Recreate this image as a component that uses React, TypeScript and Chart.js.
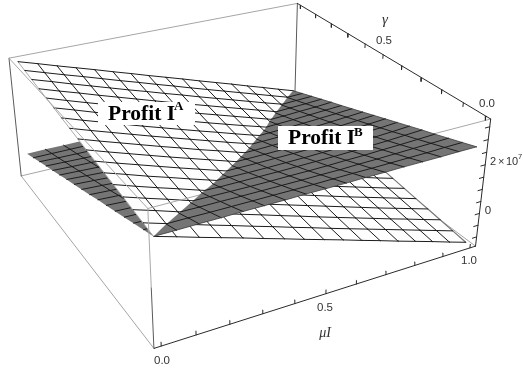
import React, { useEffect, useRef } from "react";
import { Chart, registerables } from "chart.js";

Chart.register(...registerables);

// mesh positions shared by mu I and gamma
const meshValues = [0, 0.0625, 0.125, 0.1875, 0.25, 0.3125, 0.375, 0.4375, 0.5, 0.5625, 0.625, 0.6875, 0.75, 0.8125, 0.875, 0.9375, 1];

// Profit I^A in millions: one row per gamma, one column per mu I
const profitA = [
  [26.0, 23.6, 21.1, 18.7, 16.3, 13.8, 11.4, 8.9, 6.5, 4.1, 1.6, -0.8, -3.3, -5.7, -8.1, -10.6, -13.0],
  [26.7, 24.2, 21.7, 19.2, 16.8, 14.3, 11.9, 9.4, 7.0, 4.5, 2.1, -0.3, -2.7, -5.1, -7.5, -9.9, -12.3],
  [27.4, 24.9, 22.3, 19.8, 17.3, 14.8, 12.4, 9.9, 7.5, 5.0, 2.6, 0.2, -2.2, -4.6, -6.9, -9.3, -11.6],
  [28.1, 25.5, 23.0, 20.4, 17.9, 15.4, 12.9, 10.4, 8.0, 5.6, 3.2, 0.8, -1.6, -4.0, -6.3, -8.6, -10.9],
  [28.8, 26.1, 23.5, 21.0, 18.4, 15.9, 13.4, 11.0, 8.5, 6.1, 3.7, 1.3, -1.1, -3.4, -5.7, -8.0, -10.3],
  [29.4, 26.8, 24.1, 21.6, 19.0, 16.5, 14.0, 11.5, 9.0, 6.6, 4.2, 1.9, -0.5, -2.8, -5.1, -7.4, -9.6],
  [30.1, 27.4, 24.8, 22.2, 19.6, 17.1, 14.6, 12.1, 9.7, 7.2, 4.8, 2.5, 0.1, -2.2, -4.4, -6.7, -8.9],
  [30.8, 28.1, 25.5, 22.9, 20.3, 17.8, 15.3, 12.8, 10.3, 7.9, 5.5, 3.2, 0.8, -1.5, -3.8, -6.0, -8.2],
  [31.5, 28.8, 26.2, 23.6, 21.0, 18.5, 15.9, 13.5, 11.0, 8.6, 6.2, 3.8, 1.5, -0.8, -3.1, -5.3, -7.5],
  [32.2, 29.5, 26.9, 24.3, 21.7, 19.2, 16.7, 14.2, 11.7, 9.3, 6.9, 4.6, 2.2, -0.1, -2.4, -4.6, -6.8],
  [32.9, 30.2, 27.6, 25.0, 22.4, 19.9, 17.4, 14.9, 12.5, 10.0, 7.6, 5.3, 2.9, 0.6, -1.6, -3.9, -6.1],
  [33.6, 31.0, 28.3, 25.8, 23.2, 20.7, 18.2, 15.7, 13.2, 10.8, 8.4, 6.1, 3.7, 1.4, -0.9, -3.2, -5.4],
  [34.3, 31.6, 29.0, 26.5, 23.9, 21.4, 18.9, 16.5, 14.0, 11.6, 9.2, 6.8, 4.4, 2.1, -0.2, -2.5, -4.8],
  [34.9, 32.3, 29.8, 27.2, 24.7, 22.2, 19.7, 17.2, 14.8, 12.4, 10.0, 7.6, 5.2, 2.8, 0.5, -1.8, -4.1],
  [35.6, 33.1, 30.5, 28.0, 25.5, 23.0, 20.6, 18.1, 15.7, 13.2, 10.8, 8.4, 6.0, 3.6, 1.3, -1.1, -3.4],
  [36.3, 33.8, 31.3, 28.9, 26.4, 23.9, 21.5, 19.0, 16.6, 14.1, 11.7, 9.3, 6.9, 4.5, 2.1, -0.3, -2.7],
  [37.0, 34.6, 32.1, 29.7, 27.3, 24.8, 22.4, 19.9, 17.5, 15.1, 12.6, 10.2, 7.8, 5.3, 2.9, 0.4, -2.0],
];

// Profit I^B in millions: one row per gamma, one column per mu I
const profitB = [
  [26.0, 26.0, 26.1, 26.1, 26.2, 26.2, 26.2, 26.3, 26.3, 26.3, 26.4, 26.4, 26.5, 26.5, 26.5, 26.6, 26.6],
  [24.2, 24.1, 24.1, 24.0, 24.0, 24.0, 24.0, 24.0, 24.0, 24.1, 24.2, 24.2, 24.3, 24.4, 24.5, 24.7, 24.8],
  [22.4, 22.2, 22.0, 21.9, 21.9, 21.8, 21.8, 21.8, 21.8, 21.9, 21.9, 22.1, 22.2, 22.4, 22.6, 22.8, 23.0],
  [20.5, 20.3, 20.1, 19.9, 19.8, 19.7, 19.6, 19.6, 19.7, 19.7, 19.8, 20.0, 20.1, 20.4, 20.6, 20.9, 21.2],
  [18.7, 18.4, 18.1, 17.9, 17.8, 17.6, 17.6, 17.6, 17.6, 17.7, 17.8, 17.9, 18.1, 18.4, 18.7, 19.1, 19.5],
  [16.9, 16.5, 16.2, 16.0, 15.8, 15.6, 15.6, 15.5, 15.5, 15.6, 15.7, 15.9, 16.2, 16.5, 16.8, 17.2, 17.7],
  [15.1, 14.7, 14.3, 14.1, 13.8, 13.7, 13.6, 13.6, 13.6, 13.7, 13.8, 14.0, 14.3, 14.6, 15.0, 15.4, 15.9],
  [13.2, 12.8, 12.5, 12.2, 12.0, 11.8, 11.7, 11.7, 11.7, 11.8, 11.9, 12.1, 12.4, 12.7, 13.1, 13.6, 14.1],
  [11.4, 11.0, 10.6, 10.3, 10.1, 10.0, 9.9, 9.8, 9.9, 9.9, 10.1, 10.3, 10.6, 10.9, 11.3, 11.8, 12.3],
  [9.6, 9.2, 8.8, 8.6, 8.3, 8.2, 8.1, 8.1, 8.1, 8.2, 8.3, 8.5, 8.8, 9.1, 9.5, 10.0, 10.5],
  [7.8, 7.4, 7.0, 6.8, 6.6, 6.4, 6.4, 6.3, 6.4, 6.5, 6.6, 6.8, 7.1, 7.4, 7.8, 8.2, 8.7],
  [5.9, 5.6, 5.3, 5.1, 4.9, 4.8, 4.7, 4.7, 4.7, 4.8, 4.9, 5.1, 5.4, 5.7, 6.1, 6.5, 6.9],
  [4.1, 3.8, 3.6, 3.4, 3.2, 3.1, 3.1, 3.1, 3.1, 3.2, 3.3, 3.5, 3.8, 4.0, 4.4, 4.7, 5.2],
  [2.3, 2.1, 1.9, 1.7, 1.6, 1.6, 1.5, 1.6, 1.6, 1.7, 1.8, 2.0, 2.2, 2.4, 2.7, 3.0, 3.4],
  [0.5, 0.3, 0.2, 0.1, 0.1, 0.1, 0.0, 0.1, 0.1, 0.2, 0.3, 0.5, 0.6, 0.8, 1.0, 1.3, 1.6],
  [-1.4, -1.4, -1.4, -1.4, -1.4, -1.4, -1.4, -1.3, -1.3, -1.2, -1.1, -1.0, -0.9, -0.7, -0.6, -0.4, -0.2],
  [-3.2, -3.1, -3.1, -3.0, -2.9, -2.8, -2.8, -2.7, -2.6, -2.5, -2.5, -2.4, -2.3, -2.2, -2.2, -2.1, -2.0],
];

const axisTicks = [0, 0.1, 0.2, 0.3, 0.4, 0.5, 0.6, 0.7, 0.8, 0.9, 1];
const profitTicks = [-10, -5, 0, 5, 10, 15, 20, 25, 30, 35];
const profitRange = [-14, 38];

// view: where the eight corners of the plot box land on the canvas
const boxCorners = [
  [0, 0, 0, 154, 349], [1, 0, 0, 475, 246], [0, 1, 0, 21, 175], [1, 1, 0, 295, 112],
  [0, 0, 1, 148, 208], [1, 0, 1, 491, 119], [0, 1, 1, 9, 59], [1, 1, 1, 297, 3],
];

function solveCamera() {
  const rows: number[][] = [];
  const rhs: number[] = [];
  for (const [u, v, w, x, y] of boxCorners) {
    rows.push([u, v, w, 1, 0, 0, 0, 0, -u * x, -v * x, -w * x]); rhs.push(x);
    rows.push([0, 0, 0, 0, u, v, w, 1, -u * y, -v * y, -w * y]); rhs.push(y);
  }
  const n = 11;
  const m = Array.from({ length: n }, (_, a) => {
    const r = Array.from({ length: n }, (_, b) => rows.reduce((s, row) => s + row[a] * row[b], 0));
    r.push(rows.reduce((s, row, k) => s + row[a] * rhs[k], 0));
    return r;
  });
  for (let c = 0; c < n; c++) {
    let best = c;
    for (let r = c + 1; r < n; r++) if (Math.abs(m[r][c]) > Math.abs(m[best][c])) best = r;
    [m[c], m[best]] = [m[best], m[c]];
    for (let r = 0; r < n; r++) {
      if (r === c) continue;
      const f = m[r][c] / m[c][c];
      for (let k = c; k <= n; k++) m[r][k] -= f * m[c][k];
    }
  }
  return m.map((r, i) => r[n] / r[i]);
}
const cam = solveCamera();
const boxPoint = (u: number, v: number, w: number) => {
  const d = cam[8] * u + cam[9] * v + cam[10] * w + 1;
  return { x: (cam[0] * u + cam[1] * v + cam[2] * w + cam[3]) / d, y: (cam[4] * u + cam[5] * v + cam[6] * w + cam[7]) / d };
};
const PAD = 0.02;
const toBox = (t: number) => PAD + (1 - 2 * PAD) * t;
const toW = (z: number) => (z - profitRange[0]) / (profitRange[1] - profitRange[0]);
const dataPoint = (mu: number, gamma: number, z: number) => boxPoint(toBox(mu), toBox(gamma), toW(z));
const GAP = { x: NaN, y: NaN };

type V = { mu: number; gamma: number; a: number; b: number };
const vert = (i: number, j: number): V => ({ mu: meshValues[i], gamma: meshValues[j], a: profitA[j][i], b: profitB[j][i] });
const mix = (p: V, q: V, t: number): V => ({
  mu: p.mu + (q.mu - p.mu) * t, gamma: p.gamma + (q.gamma - p.gamma) * t, a: p.a + (q.a - p.a) * t, b: p.b + (q.b - p.b) * t,
});

const last = meshValues.length - 1;

// sign +1: the part where A is above B; sign -1: the part where B is above A
function patches(sign: number, key: "a" | "b") {
  const out: { x: number; y: number }[] = [];
  for (let j = 0; j < last; j++) for (let i = 0; i < last; i++) {
    const q = [vert(i, j), vert(i + 1, j), vert(i + 1, j + 1), vert(i, j + 1)];
    const poly: V[] = [];
    q.forEach((p, k) => {
      const n = q[(k + 1) % 4];
      const dp = sign * (p.a - p.b), dn = sign * (n.a - n.b);
      if (dp >= 0) poly.push(p);
      if (dp * dn < 0) poly.push(mix(p, n, dp / (dp - dn)));
    });
    if (poly.length > 2) {
      poly.forEach((p) => out.push(dataPoint(p.mu, p.gamma, p[key])));
      out.push(GAP);
    }
  }
  return out;
}

function strokes(sign: number, key: "a" | "b", keepMu: (i: number) => boolean, keepGamma: (j: number) => boolean) {
  const out: { x: number; y: number }[] = [];
  const seg = (p: V, n: V) => {
    const dp = sign * (p.a - p.b), dn = sign * (n.a - n.b);
    if (dp < 0 && dn < 0) return;
    let s = p, e = n;
    if (dp * dn < 0) {
      const m = mix(p, n, dp / (dp - dn));
      if (dp > 0) e = m; else s = m;
    } else if (dp <= 0 && dn <= 0) return;
    out.push(dataPoint(s.mu, s.gamma, s[key]), dataPoint(e.mu, e.gamma, e[key]), GAP);
  };
  for (let j = 0; j <= last; j++) if (keepGamma(j)) for (let i = 0; i < last; i++) seg(vert(i, j), vert(i + 1, j));
  for (let i = 0; i <= last; i++) if (keepMu(i)) for (let j = 0; j < last; j++) seg(vert(i, j), vert(i, j + 1));
  return out;
}

const inner = (k: number) => k > 0 && k < last;
const any = (_: number) => true;
const none = (_: number) => false;

const edge = (a: number[], b: number[]) => [boxPoint(a[0], a[1], a[2]), boxPoint(b[0], b[1], b[2]), GAP];

const fillSet = (data: any[], color: string) => ({ data, polyFill: color, showLine: false, pointRadius: 0 });
const lineSet = (data: any[], color: string, width: number) => ({
  data, showLine: true, pointRadius: 0, borderColor: color, borderWidth: width, borderCapStyle: "round", fill: false,
});

const GREY = "#757575";
const WHITE = "#fefefe";
const MESH = "#1c1c1c";

function buildDatasets() {
  const axisEdges = [...edge([0, 0, 0], [1, 0, 0]), ...edge([1, 1, 1], [1, 0, 1]), ...edge([1, 0, 1], [1, 0, 0])];
  const tickMarks: any[] = [];
  axisTicks.forEach((t) => {
    tickMarks.push(boxPoint(toBox(t), 0, 0), boxPoint(toBox(t), 0, 0.03), GAP);
    tickMarks.push(boxPoint(1, toBox(t), 1), boxPoint(1, toBox(t), 0.97), GAP);
  });
  profitTicks.forEach((z) => {
    tickMarks.push(boxPoint(1, 0, toW(z)), boxPoint(0.985, 0, toW(z)), GAP);
  });
  const painted = [
    lineSet([...edge([0, 1, 1], [1, 1, 1]), ...edge([0, 1, 0], [1, 1, 0]), ...edge([1, 1, 0], [1, 0, 0]), ...edge([0, 1, 0], [0, 0, 0])], "#a5a5a5", 1),
    lineSet([...edge([0, 1, 1], [0, 1, 0]), ...edge([1, 1, 1], [1, 1, 0]), ...edge([0, 0, 0], [0, 0, 0.45])], "#5a5a5a", 1),
    fillSet(patches(1, "b"), GREY),
    lineSet(strokes(1, "b", inner, inner), MESH, 1),
    fillSet(patches(-1, "a"), WHITE),
    lineSet(strokes(-1, "a", (i) => i === last, none), "#777777", 1.2),
    lineSet(strokes(-1, "a", inner, any), MESH, 1),
    fillSet(patches(1, "a"), WHITE),
    lineSet(strokes(1, "a", (i) => i === 0, none), "#aaaaaa", 1),
    lineSet(strokes(1, "a", inner, any), MESH, 1),
    lineSet([...edge([0, 0, 1], [0, 1, 1]), ...edge([0, 0, 1], [1, 0, 1]), ...edge([0, 0, 1], [0, 0, 0.45])], "#a8a8a8", 1),
    fillSet(patches(-1, "b"), GREY),
    lineSet(strokes(-1, "b", inner, inner), MESH, 1),
    lineSet(strokes(-1, "b", (i) => i === last, (j) => j === 0), "#3a3a3a", 0.8),
    lineSet(axisEdges, "#2a2a2a", 1),
    lineSet(tickMarks, "#2a2a2a", 1),
  ];
  return painted.map((d, k) => ({ ...d, order: painted.length - k }));
}

const polyFillPlugin = {
  id: "polyFill",
  beforeDatasetDraw(chart: any, args: any) {
    const ds = chart.data.datasets[args.index];
    if (!ds.polyFill) return;
    const ctx = chart.ctx;
    ctx.save();
    ctx.fillStyle = ds.polyFill;
    ctx.beginPath();
    let open = false;
    args.meta.data.forEach((pt: any) => {
      if (!Number.isFinite(pt.x) || !Number.isFinite(pt.y)) {
        if (open) ctx.closePath();
        open = false;
      } else if (!open) {
        ctx.moveTo(pt.x, pt.y);
        open = true;
      } else ctx.lineTo(pt.x, pt.y);
    });
    ctx.fill();
    ctx.restore();
  },
};

const SANS = '"Liberation Sans", sans-serif';
const SERIF = '"Liberation Serif", serif';

const axisLabels = [
  { text: "0.0", x: 162, y: 361 }, { text: "0.5", x: 325, y: 308 }, { text: "1.0", x: 469, y: 261 },
  { text: "0.0", x: 487, y: 104 }, { text: "0.5", x: 384, y: 41 }, { text: "0", x: 488, y: 211 },
];

const textPlugin = {
  id: "labels",
  afterDatasetsDraw(chart: any) {
    const ctx = chart.ctx;
    ctx.save();
    ctx.textAlign = "center";
    ctx.fillStyle = "#333333";
    ctx.font = `11.5px ${SANS}`;
    ctx.textBaseline = "middle";
    axisLabels.forEach((l) => ctx.fillText(l.text, l.x, l.y));
    ctx.textAlign = "left";
    ctx.font = `11px ${SANS}`;
    ctx.fillText("2", 490, 162);
    ctx.fillText("\u00d7", 498, 162);
    ctx.fillText("10", 506, 162);
    ctx.font = `7.5px ${SANS}`;
    ctx.fillText("7", 518, 157);
    ctx.textAlign = "center";
    ctx.font = `italic 15px ${SERIF}`;
    ctx.fillText("\u03b3", 385, 20);
    ctx.font = `italic 14px ${SERIF}`;
    ctx.fillText("\u03bcI", 325, 333);

    const callout = (x: number, y: number, w: number, h: number, sup: string, tx: number, ty: number, sx: number, sy: number) => {
      ctx.fillStyle = "#ffffff";
      ctx.fillRect(x, y, w, h);
      ctx.fillStyle = "#000000";
      ctx.textAlign = "left";
      ctx.textBaseline = "alphabetic";
      ctx.font = `bold 21.5px ${SERIF}`;
      ctx.fillText("Profit I", tx, ty);
      ctx.font = `bold 13px ${SERIF}`;
      ctx.fillText(sup, sx, sy);
    };
    callout(98, 102, 97, 23, "A", 108, 120, 174, 110);
    callout(278, 126, 95, 24, "B", 288, 144, 354, 136);
    ctx.restore();
  },
};

export default function App() {
  const ref = useRef<HTMLCanvasElement>(null);
  useEffect(() => {
    document.body.style.margin = "0";
    const chart = new Chart(ref.current as HTMLCanvasElement, {
      type: "scatter",
      data: { datasets: buildDatasets() as any },
      options: {
        animation: false,
        responsive: false,
        layout: { padding: 0 },
        plugins: { legend: { display: false }, tooltip: { enabled: false } },
        scales: {
          x: { type: "linear", min: 0, max: 523, display: false },
          y: { type: "linear", min: 0, max: 371, reverse: true, display: false },
        },
      },
      plugins: [polyFillPlugin, textPlugin],
    } as any);
    return () => chart.destroy();
  }, []);
  return <canvas ref={ref} width={523} height={371} style={{ display: "block" }} />;
}
